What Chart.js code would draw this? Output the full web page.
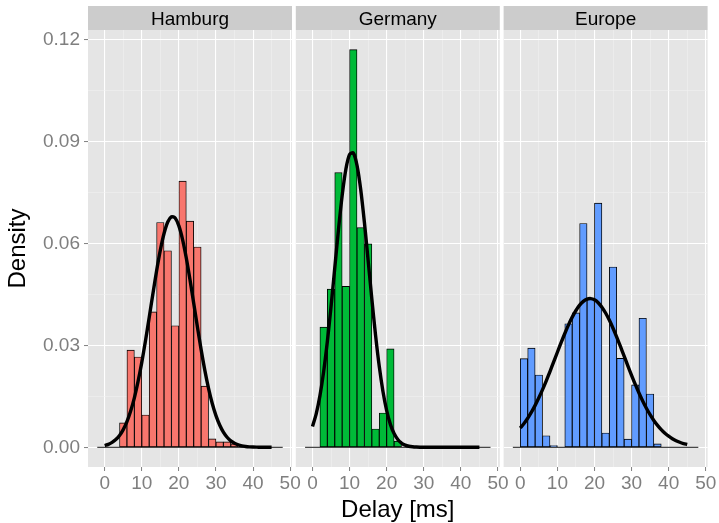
<!DOCTYPE html>
<html><head><meta charset="utf-8">
<script src="https://cdn.jsdelivr.net/npm/chart.js@4/dist/chart.umd.min.js"></script>
<style>
html,body{margin:0;padding:0;background:#fff;}
#wrap{position:relative;width:719px;height:523px;overflow:hidden;}
canvas{position:absolute;left:0;top:0;}
</style></head><body>
<div id="wrap">
<canvas id="c0" width="719" height="523"></canvas>
<canvas id="c1" width="719" height="523"></canvas>
<canvas id="c2" width="719" height="523"></canvas>
</div>
<script>
// ---- data ----
const panels = ['Hamburg', 'Germany', 'Europe'];
const binStarts = [-2,0,2,4,6,8,10,12,14,16,18,20,22,24,26,28,30,32,34,36,38,40,42,44,46];
const binWidth = 2;
const hamburgDensity = [0,0,0,0.0072,0.0286,0.0266,0.0095,0.0399,0.0662,0.0579,0.0358,0.0784,0.0666,0.0590,0.0180,0.0025,0.0016,0.0016,0.0010,0,0,0,0,0,0];
const germanyDensity = [0,0,0.0354,0.0466,0.0809,0.0474,0.1171,0.0647,0.0599,0.0054,0.0101,0.0290,0.0018,0,0,0,0,0,0,0,0,0,0,0,0];
const europeDensity  = [0,0.0261,0.0292,0.0213,0.0034,0.0005,0,0.0364,0.0396,0.0659,0.0439,0.0719,0.0042,0.0531,0.0262,0.0024,0.0184,0.0380,0.0157,0.0010,0,0,0,0,0];
const curveX = [0,1,2,3,4,5,6,7,8,9,10,11,12,13,14,15,16,17,18,19,20,21,22,23,24,25,26,27,28,29,30,31,32,33,34,35,36,37,38,39,40,41,42,43,44,45];
const hamburgCurve = [0.00053,0.00088,0.00144,0.00228,0.0035,0.00522,0.00757,0.01066,0.01458,0.01939,0.02502,0.03138,0.03823,0.04523,0.052,0.05806,0.06297,0.06635,0.06791,0.06752,0.0652,0.06117,0.05575,0.04935,0.04244,0.03545,0.02876,0.02267,0.01736,0.01291,0.00933,0.00655,0.00446,0.00296,0.0019,0.00119,0.00072,0.00042,0.00024,0.00013,0.00007,0.00004,0.00002,0.00001,0.00001,0];
const germanyCurve = [0.00612,0.00986,0.01515,0.02222,0.03109,0.04146,0.05277,0.06405,0.07416,0.08189,0.08626,0.08667,0.08307,0.07593,0.06621,0.05506,0.04368,0.03305,0.02385,0.01643,0.01079,0.00675,0.00403,0.0023,0.00125,0.00065,0.00032,0.00015,0.00007,0.00003,0.00001,0,0,0,0,0,0,0,0,0,0,0,0,0,0,0];
const europeCurve = [0.00568,0.00701,0.00856,0.01035,0.01235,0.01457,0.01699,0.01958,0.02232,0.02514,0.02799,0.03081,0.03352,0.03606,0.03834,0.04029,0.04186,0.04299,0.04364,0.0438,0.04344,0.04259,0.04128,0.03955,0.03746,0.03507,0.03246,0.0297,0.02685,0.024,0.02121,0.01853,0.016,0.01365,0.01152,0.00961,0.00792,0.00646,0.0052,0.00414,0.00326,0.00254,0.00195,0.00148,0.00111,0.00083];
const xMajorTicks = [0,10,20,30,40,50];
const xMinorTicks = [5,15,25,35,45];
const yMajorTicks = [0,0.03,0.06,0.09,0.12];
const yMinorTicks = [0.015,0.045,0.075,0.105];
const fillColors = ['#F8766D','#00BA38','#619CFF'];

const densities = [hamburgDensity, germanyDensity, europeDensity];
const curves = [hamburgCurve, germanyCurve, europeCurve];

// ---- layout ----
const W = 719, H = 523;
const panelLeft = [88, 295.8, 503.6];
const panelWidth = 204;
const panelTop = 30;
const xAxisHeight = 56;
const FONT = '"Liberation Sans", Arial, Helvetica, sans-serif';

function isIn(arr, v) { return arr.some(a => Math.abs(a - v) < 1e-9); }
function tickVal(c) { return c && c.tick ? c.tick.value : null; }

const stripPlugin = {
  id: 'strip',
  beforeDraw(chart, args, opts) {
    const ctx = chart.ctx, a = chart.chartArea;
    ctx.save();
    ctx.fillStyle = '#E5E5E5';
    ctx.fillRect(a.left, a.top, a.right - a.left, a.bottom - a.top);
    ctx.fillStyle = '#CCCCCC';
    ctx.fillRect(a.left, a.top - 24, a.right - a.left, 24);
    ctx.fillStyle = '#000';
    ctx.font = '19px ' + FONT;
    ctx.textAlign = 'center';
    ctx.textBaseline = 'alphabetic';
    ctx.fillText(opts.text, (a.left + a.right) / 2, a.top - 5);
    ctx.restore();
  }
};

function gridOpts(majors, drawTicks) {
  return {
    offset: false,
    drawTicks: drawTicks,
    tickLength: 4,
    tickWidth: 1,
    color: c => isIn(majors, tickVal(c)) ? '#FFFFFF' : '#F2F2F2',
    lineWidth: c => isIn(majors, tickVal(c)) ? 1.1 : 0.55,
    tickColor: c => isIn(majors, tickVal(c)) ? '#7F7F7F' : 'rgba(0,0,0,0)'
  };
}

function makeChart(idx) {
  const showY = idx === 0;
  const left = panelLeft[idx];
  const right = left + panelWidth;
  return new Chart(document.getElementById('c' + idx), {
    type: 'bar',
    data: {
      datasets: [
        {
          type: 'line',
          data: curveX.map((x, i) => ({ x: x, y: curves[idx][i] })),
          borderColor: '#000000',
          borderWidth: 3.4,
          pointRadius: 0,
          tension: 0.3,
          fill: false,
          order: 0
        },
        {
          type: 'bar',
          data: binStarts.map((b, i) => ({ x: b + binWidth / 2, y: densities[idx][i] })),
          backgroundColor: fillColors[idx],
          borderColor: '#000000',
          borderWidth: 0.9,
          borderSkipped: false,
          barPercentage: 1,
          categoryPercentage: 1,
          grouped: false,
          order: 1
        },
        {
          type: 'line',
          data: [
            { x: binStarts[0], y: 0 },
            { x: binStarts[binStarts.length - 1] + binWidth, y: 0 }
          ],
          borderColor: '#1a1a1a',
          borderWidth: 1,
          pointRadius: 0,
          fill: false,
          order: 2
        }
      ]
    },
    options: {
      responsive: false,
      animation: false,
      devicePixelRatio: 1,
      events: [],
      layout: {
        padding: { left: showY ? 0 : left, right: W - right, top: panelTop, bottom: 0 }
      },
      plugins: {
        legend: { display: false },
        tooltip: { enabled: false },
        strip: { text: panels[idx] }
      },
      scales: {
        x: {
          type: 'linear',
          min: -4.5,
          max: 50.5,
          offset: false,
          border: { display: false },
          grid: gridOpts(xMajorTicks, true),
          afterBuildTicks: s => {
            s.ticks = xMajorTicks.concat(xMinorTicks).sort((a, b) => a - b).map(v => ({ value: v }));
          },
          ticks: {
            autoSkip: false,
            maxRotation: 0,
            minRotation: 0,
            color: '#7F7F7F',
            padding: 1,
            font: { family: FONT, size: 19 },
            callback: v => isIn(xMajorTicks, v) ? String(v) : ''
          },
          title: {
            display: idx === 1,
            text: 'Delay [ms]',
            color: '#000000',
            font: { family: FONT, size: 24 },
            padding: { top: 0, bottom: -2 }
          },
          afterFit: s => { s.height = xAxisHeight; s.paddingLeft = 0; s.paddingRight = 0; }
        },
        y: {
          type: 'linear',
          min: -0.0058,
          max: 0.1229,
          border: { display: false },
          grid: gridOpts(yMajorTicks, showY),
          afterBuildTicks: s => {
            s.ticks = yMajorTicks.concat(yMinorTicks).sort((a, b) => a - b).map(v => ({ value: v }));
          },
          ticks: {
            display: showY,
            autoSkip: false,
            color: '#7F7F7F',
            padding: 4,
            font: { family: FONT, size: 19 },
            callback: v => isIn(yMajorTicks, v) ? v.toFixed(2) : ''
          },
          title: {
            display: showY,
            text: 'Density',
            color: '#000000',
            font: { family: FONT, size: 24 },
            padding: { top: 4, bottom: 0 }
          },
          afterFit: s => { s.width = showY ? panelLeft[0] : 0; s.paddingTop = 0; s.paddingBottom = 0; }
        }
      }
    },
    plugins: [stripPlugin]
  });
}

[0, 1, 2].forEach(makeChart);
</script>
</body></html>
